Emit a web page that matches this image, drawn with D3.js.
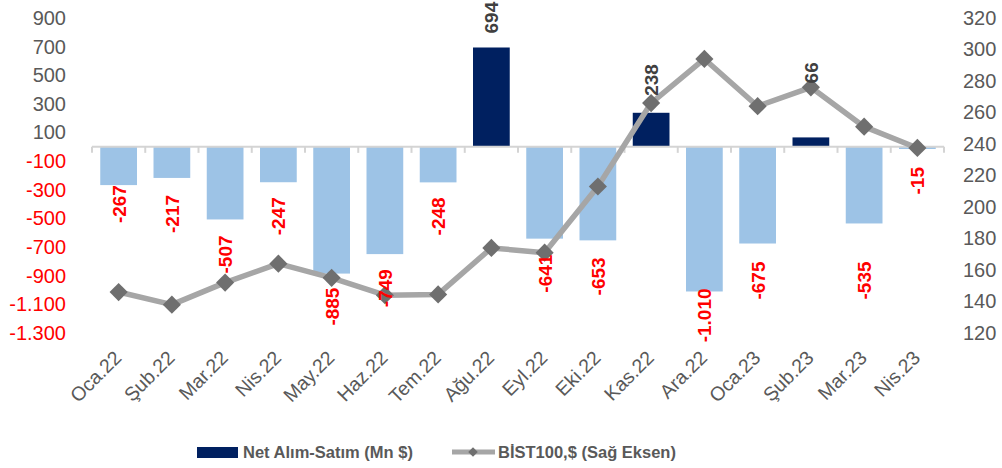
<!DOCTYPE html>
<html>
<head>
<meta charset="utf-8">
<script src="https://cdn.jsdelivr.net/npm/d3@7"></script>
<style>
  body { margin: 0; background: #fff; }
  svg { font-family: 'Liberation Sans', Arial, sans-serif; }
</style>
</head>
<body>
<svg id="chart" width="1002" height="468"></svg>
<script>
const months = ['Oca.22', 'Şub.22', 'Mar.22', 'Nis.22', 'May.22', 'Haz.22', 'Tem.22', 'Ağu.22',
  'Eyl.22', 'Eki.22', 'Kas.22', 'Ara.22', 'Oca.23', 'Şub.23', 'Mar.23', 'Nis.23']
const netFlow = [-267, -217, -507, -247, -885, -749, -248, 694, -641, -653, 238, -1010, -675, 66, -535, -15]
const bist = [146, 138, 152, 164, 155, 144, 144.5, 174, 171, 213, 266, 294, 264, 276, 251, 237.5]
const leftTicks = [900, 700, 500, 300, 100, -100, -300, -500, -700, -900, -1100, -1300]
const rightTicks = [320, 300, 280, 260, 240, 220, 200, 180, 160, 140, 120]

// etiketlerin bar ucundan uzaklığı (px), orijinalde elle kaydırılmış olanlar var
const labelGap = [0, 17, 16, 15, 14, 15, 15, 14, 16, 17, 17, -3, 18, 54, 38, 18]

const trLocale = d3.formatLocale({ decimal: ',', thousands: '.', grouping: [3], currency: ['', ''], minus: '-' })
const fmt = trLocale.format(',d')

const svg = d3.select('#chart')
const plotTop = 18, plotBottom = 333, plotLeft = 92, plotRight = 944

const x = d3.scaleBand().domain(months).range([plotLeft, plotRight]).paddingInner(0.31).paddingOuter(0.155)
const y = d3.scaleLinear().domain([-1300, 900]).range([plotBottom, plotTop])
const yR = d3.scaleLinear().domain([120, 320]).range([plotBottom, plotTop])
const cx = m => x(m) + x.bandwidth() / 2

// sol eksen
const yAxisG = svg.append('g').attr('transform', `translate(${plotLeft - 23},0)`)
  .call(d3.axisLeft(y).tickValues(leftTicks).tickSize(0).tickFormat(fmt))
yAxisG.select('.domain').remove()
yAxisG.selectAll('text')
  .attr('font-size', 20).attr('font-family', "'Liberation Sans', Arial, sans-serif")
  .attr('fill', d => d < 0 ? '#ff0000' : '#595959')

// sağ eksen
const yRAxisG = svg.append('g').attr('transform', `translate(${plotRight + 16},0)`)
  .call(d3.axisRight(yR).tickValues(rightTicks).tickSize(0))
yRAxisG.select('.domain').remove()
yRAxisG.selectAll('text')
  .attr('font-size', 20).attr('font-family', "'Liberation Sans', Arial, sans-serif")
  .attr('fill', '#595959')

// barlar
svg.append('g').selectAll('rect').data(netFlow).join('rect')
  .attr('x', (d, i) => x(months[i]))
  .attr('width', x.bandwidth())
  .attr('y', d => y(Math.max(0, d)))
  .attr('height', d => Math.abs(y(d) - y(0)))
  .attr('fill', d => d < 0 ? '#9dc3e6' : '#002060')

// sıfır çizgisi
const zeroY = y(0)
svg.append('line').attr('x1', plotLeft).attr('x2', plotRight).attr('y1', zeroY).attr('y2', zeroY)
  .attr('stroke', '#d4d4d4').attr('stroke-width', 2)
svg.append('g').selectAll('line').data(d3.range(months.length + 1)).join('line')
  .attr('x1', i => plotLeft + i * x.step()).attr('x2', i => plotLeft + i * x.step())
  .attr('y1', zeroY).attr('y2', zeroY + 6)
  .attr('stroke', '#d4d4d4').attr('stroke-width', 2)

// x etiketleri
svg.append('g').selectAll('text').data(months).join('text')
  .attr('transform', m => `translate(${cx(m) + 4},${plotBottom + 26}) rotate(-45)`)
  .attr('text-anchor', 'end')
  .attr('font-size', 19.5)
  .attr('fill', '#595959')
  .text(m => m)

// çizgi
const line = d3.line().x((d, i) => cx(months[i])).y(d => yR(d))
svg.append('path').datum(bist)
  .attr('d', line).attr('fill', 'none')
  .attr('stroke', '#a6a6a6').attr('stroke-width', 5.5).attr('stroke-linejoin', 'round')
svg.append('g').selectAll('path').data(bist).join('path')
  .attr('d', d3.symbol().type(d3.symbolSquare).size(165))
  .attr('transform', (d, i) => `translate(${cx(months[i])},${yR(d)}) rotate(45)`)
  .attr('fill', '#6f6f6f')

// bar etiketleri
svg.append('g').selectAll('text').data(netFlow).join('text')
  .attr('transform', (d, i) => {
    const px = cx(months[i]) + 7
    const py = d < 0 ? y(d) + labelGap[i] : y(d) - labelGap[i]
    return `translate(${px},${py}) rotate(-90)`
  })
  .attr('text-anchor', d => d < 0 ? 'end' : 'start')
  .attr('font-size', 19).attr('font-weight', 'bold')
  .attr('fill', d => d < 0 ? '#ff0000' : '#404040')
  .text(d => fmt(d))

// lejant
const lg = svg.append('g').attr('font-size', 16.5).attr('font-weight', 'bold').attr('fill', '#595959')
lg.append('rect').attr('x', 197).attr('y', 447).attr('width', 41).attr('height', 11).attr('fill', '#002060')
lg.append('text').attr('x', 243).attr('y', 458).text('Net Alım-Satım (Mn $)')
lg.append('line').attr('x1', 452).attr('x2', 495).attr('y1', 452).attr('y2', 452)
  .attr('stroke', '#a6a6a6').attr('stroke-width', 5)
lg.append('path').attr('d', d3.symbol().type(d3.symbolSquare).size(45))
  .attr('transform', 'translate(473,452) rotate(45)').attr('fill', '#6f6f6f')
lg.append('text').attr('x', 498).attr('y', 458).text('BİST100,$ (Sağ Eksen)')
</script>
</body>
</html>
